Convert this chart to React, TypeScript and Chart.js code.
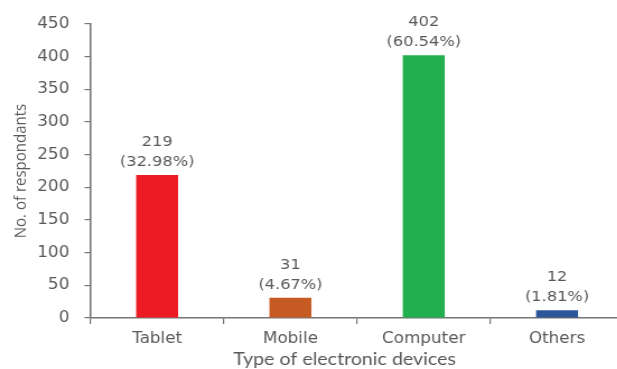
import React, { useEffect, useRef } from "react";
import { Chart, registerables } from "chart.js";

Chart.register(...registerables);

const categories = ["Tablet", "Mobile", "Computer", "Others"];
const respondents = [219, 31, 402, 12];
const percentages = ["32.98%", "4.67%", "60.54%", "1.81%"];
const barColors = ["#ED1C24", "#C55A22", "#22AF4F", "#2A5699"];
const yTicksMax = 450;
const yTickStep = 50;
const xTitle = "Type of electronic devices";
const yTitle = "No. of respondants";

const TEXT = "#595959";
const AXIS = "#767676";
const STRETCH = 1.12;
const LOGICAL_W = 560;
const H = 369;

const labelPlugin = {
  id: "barLabels",
  afterDatasetsDraw(chart: any) {
    const ctx = chart.ctx;
    const meta = chart.getDatasetMeta(0);
    ctx.save();
    ctx.fillStyle = TEXT;
    ctx.font = "14.5px 'DejaVu Sans'";
    ctx.textAlign = "center";
    ctx.textBaseline = "middle";
    meta.data.forEach((bar: any, i: number) => {
      ctx.fillText(String(respondents[i]), bar.x, bar.y - 33);
      ctx.fillText("(" + percentages[i] + ")", bar.x, bar.y - 13);
    });
    // x-axis title (slightly left of plot centre, as in the reference)
    ctx.font = "17.5px Lato";
    ctx.textBaseline = "alphabetic";
    ctx.fillText(xTitle, 344.5 / STRETCH, 365);
    ctx.restore();
  },
};

export default function App() {
  const ref = useRef<HTMLCanvasElement>(null);
  useEffect(() => {
    if (!ref.current) return;
    const chart = new Chart(ref.current, {
      type: "bar",
      data: {
        labels: categories,
        datasets: [
          {
            data: respondents,
            backgroundColor: barColors,
            borderWidth: 0,
            barPercentage: 0.315,
            categoryPercentage: 1,
          },
        ],
      },
      options: {
        responsive: false,
        animation: false,
        devicePixelRatio: 1,
        layout: { padding: { top: 24, right: LOGICAL_W - 623.7 / STRETCH, bottom: 0, left: 0 } },
        plugins: {
          legend: { display: false },
          tooltip: { enabled: false },
        },
        scales: {
          x: {
            afterFit: (s: any) => {
              s.height = 51;
            },
            grid: {
              display: true,
              drawOnChartArea: false,
              drawTicks: true,
              tickLength: 6,
              color: AXIS,
              lineWidth: 1.2,
              offset: true,
            },
            border: { display: true, color: AXIS, width: 1.5 },
            ticks: {
              color: TEXT,
              font: { family: "'DejaVu Sans'", size: 15 },
              padding: 6,
            },
          },
          y: {
            min: 0,
            max: yTicksMax,
            afterFit: (s: any) => {
              s.width = 90.5 / STRETCH;
            },
            grid: {
              display: true,
              drawOnChartArea: false,
              drawTicks: true,
              tickLength: 6 / STRETCH,
              color: AXIS,
              lineWidth: 1.2,
            },
            border: { display: true, color: AXIS, width: 1.6 },
            ticks: {
              stepSize: yTickStep,
              color: TEXT,
              font: { family: "'DejaVu Sans'", size: 15 },
              padding: 13.5,
            },
            title: {
              display: true,
              text: yTitle,
              color: TEXT,
              font: { family: "'Open Sans'", size: 15, lineHeight: 1.2 },
              padding: { top: 21 / STRETCH - 9, bottom: 0 },
            },
          },
        },
      },
      plugins: [labelPlugin],
    });
    return () => chart.destroy();
  }, []);

  return (
    <div
      style={{
        position: "absolute",
        left: 0,
        top: 0,
        width: 617,
        height: H,
        overflow: "hidden",
        background: "#fff",
      }}
    >
      <div
        style={{
          width: LOGICAL_W,
          height: H,
          transform: `scaleX(${STRETCH})`,
          transformOrigin: "0 0",
        }}
      >
        <canvas ref={ref} width={LOGICAL_W} height={H} />
      </div>
    </div>
  );
}
